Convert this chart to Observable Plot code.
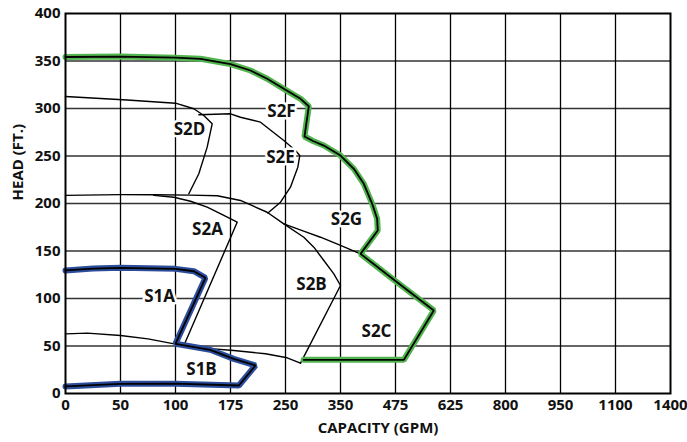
<!DOCTYPE html>
<html>
<head>
<meta charset="utf-8">
<script src="https://cdn.jsdelivr.net/npm/d3@7"></script>
<script src="https://cdn.jsdelivr.net/npm/@observablehq/plot@0.6"></script>
<style>
  html, body { margin: 0; padding: 0; background: #fff; }
  #chart svg { display: block; }
</style>
</head>
<body>
<div id="chart"></div>
<script>
// ---- data (capacity GPM, head ft) ----
const xTicks = [0, 50, 100, 175, 250, 350, 475, 625, 800, 950, 1100, 1400];
const yTicks = [0, 50, 100, 150, 200, 250, 300, 350, 400];
const yGrid = [50, 100, 150, 200, 250, 300, 350];

// S1A + S1B envelope (blue)
const s1Outline = [[0,129.5],[25,131.5],[50,132.3],[100,131.2],[125,128.7],[140.9,121.8],[100,52.3],[147.3,46],[179.5,36.5],[209,29.5],[186.4,8.4],[100,10.3],[50,10.2],[0,7.4]];
// S2F + S2G + S2C envelope (green)
const s2Outline = [[0,354.2],[50,354.7],[100,353.5],[134.1,352.3],[175,346.8],[202.3,340],[225,331.3],[247.7,320.7],[277.3,310.2],[292.4,302.4],[284.5,270.5],[300,265.8],[319.7,261],[350,250.5],[380.3,236.5],[403,220.7],[422,199.7],[433.3,183.9],[434.7,171.6],[395.5,147],[475,118.4],[579.5,87.4],[497.7,35.4],[475,35.4],[283,35.4]];

// inner model boundaries (thin black)
const s2dCurve = [[0,312.6],[56,309],[100,305.6],[125,299.7],[138.6,292.6],[150,283.9],[143.2,259.3],[131.8,231.3],[118.2,210.2]];
const s2eCurve = [[131.8,293.4],[175,294.4],[188.6,290.8],[215.9,285.6],[247.7,266.3],[268.2,255.8],[276,250.5],[272.4,238.2],[259,217.2],[243.2,201.4],[226,190]];
const topCurve = [[0,208.6],[50,209.3],[80.3,209.2],[120,208.8],[157,208.2],[188.6,203.2],[225,190.8],[247.7,178.6],[283,171],[313.6,164.5],[350,155.9],[395.5,147]];
const s2aCurve = [[80.3,208.6],[98.5,206.6],[120.5,202.4],[143.2,196.1],[165.9,187.4],[184.1,180.3],[175,164],[111.4,50.5]];
const s2bCurve = [[247.7,178.6],[283.3,164.5],[301.5,154],[319.7,140],[337.9,126],[350,113.7],[277.3,31.9]];
const lowCurve = [[0,62.8],[20,63.6],[50,61],[75,57.5],[100,52],[125,48.5],[179.5,45.3],[222.7,41.8],[253,37.6],[277.3,31.9]];

const modelNames = ["S1A","S1B","S2A","S2B","S2C","S2D","S2E","S2F","S2G"];
const labelX = [85.5, 135.5, 143.6, 297.3, 431.8, 119.1, 243.2, 244.5, 363.6];
const labelY = [102.1, 25.3, 172.6, 114.7, 65.3, 277.9, 248.4, 296.8, 183.2];

// ---- layout ----
const W = 687, H = 442;
const mL = 65, mR = 17, mT = 13, mB = 49;
const xRange = xTicks.map((_, i) => mL + i * (W - mL - mR) / (xTicks.length - 1));

const labels = modelNames.map((n, i) => ({name: n, x: labelX[i], y: labelY[i]}));
const px = d => d[0], py = d => d[1];
const thin = {x: px, y: py, stroke: "#000", strokeWidth: 1.4};

const chart = Plot.plot({
  width: W, height: H,
  marginLeft: mL, marginRight: mR, marginTop: mT, marginBottom: mB,
  style: {fontFamily: "'Open Sans', sans-serif", fontWeight: "bold", fontSize: "15px", color: "#111", background: "#fff"},
  x: {type: "linear", domain: xTicks, range: xRange, ticks: xTicks, tickFormat: d => String(d), tickSize: 0, tickPadding: 6, label: null},
  y: {type: "linear", domain: [0, 400], ticks: yTicks, tickFormat: d => String(d), tickSize: 0, tickPadding: 5, label: null},
  marks: [
    Plot.ruleY(yGrid, {stroke: "#333", strokeWidth: 1.3}),
    Plot.ruleX(xTicks.slice(1, -1), {stroke: "#000", strokeWidth: 1.3}),
    Plot.line(lowCurve, thin),
    Plot.line(topCurve, thin),
    Plot.line(s2aCurve, thin),
    Plot.line(s2bCurve, thin),
    Plot.line(s2dCurve, thin),
    Plot.line(s2eCurve, thin),
    Plot.line(s1Outline, {x: px, y: py, stroke: "#2c4d9c", strokeWidth: 6, strokeLinejoin: "miter"}),
    Plot.line(s1Outline, {x: px, y: py, stroke: "#000", strokeWidth: 1.8, strokeLinejoin: "miter"}),
    Plot.line(s2Outline, {x: px, y: py, stroke: "#52b44f", strokeWidth: 6, strokeLinejoin: "miter"}),
    Plot.line(s2Outline, {x: px, y: py, stroke: "#000", strokeWidth: 1.8, strokeLinejoin: "miter"}),
    Plot.text(labels, {x: "x", y: "y", text: "name", fill: "#111", stroke: "#fff", strokeWidth: 5, fontSize: 17, fontWeight: "bold"}),
    Plot.text(["CAPACITY (GPM)"], {frameAnchor: "bottom", dx: 10, dy: 39, text: d => d, fontSize: 15, fontWeight: "bold", fill: "#111"}),
    Plot.text(["HEAD (FT.)"], {frameAnchor: "left", dx: -47, dy: -3, rotate: -90, text: d => d, fontSize: 15, fontWeight: "bold", fill: "#111"}),
    Plot.frame({stroke: "#000", strokeWidth: 2})
  ]
});
document.getElementById("chart").appendChild(chart);
</script>
</body>
</html>
